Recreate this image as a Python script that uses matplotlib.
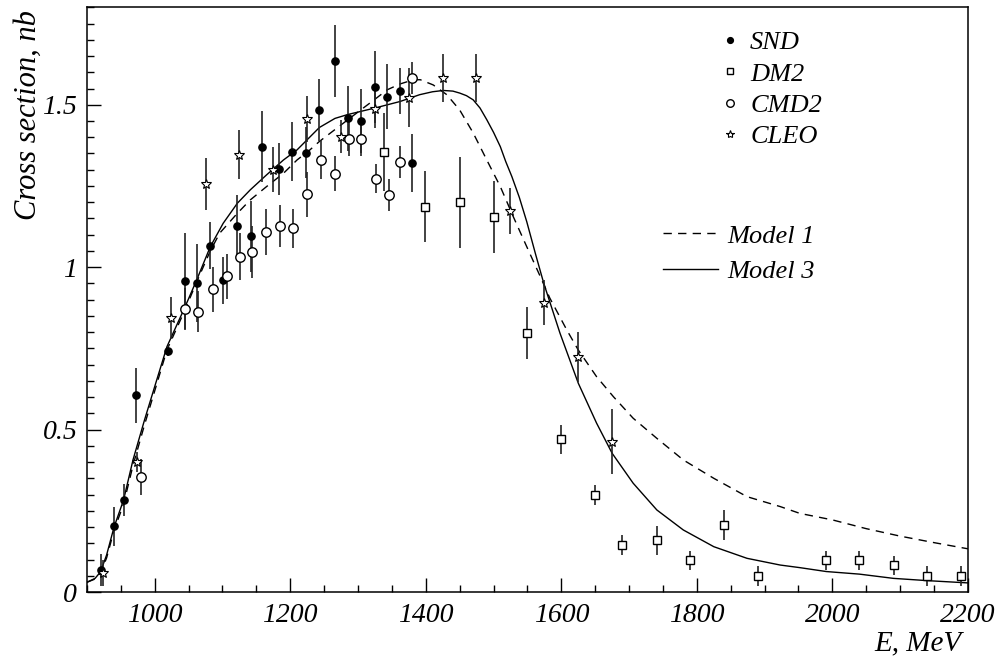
import matplotlib
matplotlib.use('Agg')
import matplotlib.pyplot as plt
from matplotlib.ticker import MultipleLocator, FuncFormatter

plt.rcParams['font.family'] = ['Liberation Serif', 'DejaVu Serif']
plt.rcParams['font.style'] = 'italic'

# SND
snd_e = [920, 940, 954, 973, 1019, 1045, 1062, 1082, 1101, 1122, 1142, 1159,
         1183, 1202, 1223, 1243, 1266, 1285, 1304, 1325, 1343, 1362, 1380]
snd_s = [0.068, 0.202, 0.283, 0.605, 0.741, 0.958, 0.95, 1.066, 0.959, 1.127,
         1.095, 1.371, 1.303, 1.356, 1.353, 1.484, 1.634, 1.459, 1.45, 1.555,
         1.524, 1.542, 1.321]
snd_err = [0.05, 0.06, 0.05, 0.085, 0.015, 0.147, 0.12, 0.072, 0.073, 0.095,
           0.11, 0.11, 0.08, 0.09, 0.08, 0.095, 0.11, 0.1, 0.1, 0.11, 0.1,
           0.07, 0.09]

# DM2
dm2_e = [1339, 1399, 1450, 1500, 1550, 1600, 1650, 1690, 1741, 1790, 1840,
         1890, 1991, 2040, 2091, 2140, 2190]
dm2_s = [1.356, 1.186, 1.2, 1.155, 0.797, 0.47, 0.299, 0.144, 0.159, 0.097,
         0.206, 0.049, 0.097, 0.097, 0.082, 0.049, 0.049]
dm2_err = [0.12, 0.11, 0.14, 0.11, 0.08, 0.045, 0.03, 0.03, 0.045, 0.03,
           0.047, 0.03, 0.03, 0.03, 0.03, 0.03, 0.03]

# CMD2
cmd2_e = [980, 1045, 1064, 1086, 1107, 1126, 1143, 1164, 1185, 1204, 1225,
          1245, 1266, 1286, 1304, 1327, 1346, 1362, 1380]
cmd2_s = [0.354, 0.871, 0.863, 0.932, 0.972, 1.032, 1.047, 1.109, 1.126, 1.12,
          1.224, 1.331, 1.288, 1.396, 1.396, 1.272, 1.222, 1.323, 1.583]
cmd2_err = [0.055, 0.064, 0.063, 0.07, 0.07, 0.073, 0.08, 0.07, 0.065, 0.06,
            0.07, 0.06, 0.055, 0.055, 0.055, 0.045, 0.05, 0.05, 0.05]

# CLEO
cleo_e = [924, 974, 1024, 1075, 1125, 1174, 1225, 1275, 1325, 1375, 1425,
          1474, 1525, 1575, 1624, 1675]
cleo_s = [0.058, 0.4, 0.843, 1.257, 1.346, 1.3, 1.456, 1.402, 1.487, 1.522,
          1.582, 1.582, 1.173, 0.891, 0.723, 0.462]
cleo_err = [0.04, 0.03, 0.064, 0.08, 0.075, 0.07, 0.07, 0.05, 0.06, 0.09,
            0.075, 0.075, 0.07, 0.07, 0.077, 0.1]

# Model 1 (dashed)
m1_e = [900, 912, 920, 929, 940, 954, 968, 985, 1003, 1018, 1045, 1062, 1082,
        1096, 1122, 1141, 1165, 1190, 1210, 1229, 1243, 1275, 1304, 1325, 1343,
        1362, 1382, 1392, 1411, 1431, 1450, 1470, 1490, 1510, 1529, 1549, 1569,
        1583, 1608, 1625, 1652, 1677, 1706, 1741, 1780, 1825, 1874, 1923, 1952,
        2000, 2050, 2100, 2150, 2200]
m1_s = [0.03, 0.04, 0.058, 0.105, 0.19, 0.27, 0.39, 0.515, 0.64, 0.745, 0.87,
        0.955, 1.05, 1.105, 1.166, 1.207, 1.248, 1.289, 1.33, 1.361, 1.387,
        1.438, 1.484, 1.517, 1.546, 1.564, 1.577, 1.577, 1.561, 1.531, 1.484,
        1.413, 1.33, 1.248, 1.156, 1.063, 0.971, 0.905, 0.807, 0.745, 0.663,
        0.601, 0.535, 0.473, 0.4065, 0.35, 0.2935, 0.263, 0.242, 0.222, 0.195,
        0.172, 0.152, 0.133]

# Model 3 (solid)
m3_e = [900, 912, 920, 929, 940, 954, 968, 985, 1003, 1018, 1045, 1062, 1082,
        1101, 1122, 1141, 1165, 1190, 1210, 1243, 1266, 1285, 1325, 1362, 1391,
        1410, 1426, 1440, 1450, 1460, 1470, 1480, 1490, 1500, 1510, 1518, 1527,
        1538, 1549, 1562, 1574, 1598, 1625, 1652, 1675, 1706, 1741, 1780, 1825,
        1874, 1923, 1952, 1991, 2040, 2090, 2140, 2200]
m3_s = [0.03, 0.042, 0.062, 0.114, 0.2, 0.283, 0.407, 0.53, 0.653, 0.755,
        0.879, 0.961, 1.063, 1.135, 1.197, 1.238, 1.284, 1.33, 1.361, 1.43,
        1.458, 1.47, 1.49, 1.51, 1.531, 1.54, 1.544, 1.542, 1.536, 1.528, 1.515,
        1.49, 1.454, 1.415, 1.371, 1.325, 1.279, 1.215, 1.14, 1.04, 0.951,
        0.797, 0.643, 0.52, 0.427, 0.335, 0.2525, 0.191, 0.1395, 0.1037, 0.083,
        0.075, 0.063, 0.055, 0.042, 0.035, 0.028]

fig = plt.figure(figsize=(9.96, 6.58), dpi=100)
ax = fig.add_axes([0.0873, 0.1003, 0.8845, 0.8886])

ax.plot(m1_e, m1_s, color='black', lw=1.0, dashes=(6, 4.5), label='Model 1', zorder=2)
ax.plot(m3_e, m3_s, color='black', lw=1.0, label='Model 3', zorder=2)

for e, s, err in [(snd_e, snd_s, snd_err), (dm2_e, dm2_s, dm2_err),
                  (cmd2_e, cmd2_s, cmd2_err), (cleo_e, cleo_s, cleo_err)]:
    ax.errorbar(e, s, yerr=err, fmt='none', ecolor='#222222', elinewidth=1.2,
                capsize=0, zorder=3)

h_snd, = ax.plot(snd_e, snd_s, ls='none', marker='o', ms=5.2, mfc='black',
                 mec='black', label='SND', zorder=4)
h_dm2, = ax.plot(dm2_e, dm2_s, ls='none', marker='s', ms=5.8, mfc='white',
                 mec='black', mew=1.0, label='DM2', zorder=4)
h_cmd2, = ax.plot(cmd2_e, cmd2_s, ls='none', marker='o', ms=6.8, mfc='white',
                  mec='black', mew=1.0, label='CMD2', zorder=4)
h_cleo, = ax.plot(cleo_e, cleo_s, ls='none', marker='*', ms=7.5, mfc='white',
                  mec='black', mew=0.8, label='CLEO', zorder=4)

ax.set_xlim(900, 2200)
ax.set_ylim(0, 1.8)
ax.xaxis.set_major_locator(MultipleLocator(200))
ax.xaxis.set_minor_locator(MultipleLocator(50))
ax.yaxis.set_major_locator(MultipleLocator(0.5))
ax.yaxis.set_minor_locator(MultipleLocator(0.05))
ax.yaxis.set_major_formatter(FuncFormatter(lambda v, p: '%g' % v))
ax.xaxis.set_major_formatter(FuncFormatter(lambda v, p: '' if v < 950 else '%d' % v))

ax.tick_params(which='both', direction='in', top=False, right=False,
               labelsize=20, width=1.0)
ax.tick_params(which='major', length=10)
ax.tick_params(which='minor', length=5)
ax.tick_params(axis='x', pad=8)
ax.tick_params(axis='y', pad=7)
for lab in ax.get_xticklabels() + ax.get_yticklabels():
    lab.set_fontstyle('italic')
for sp in ax.spines.values():
    sp.set_linewidth(1.1)

ax.set_xlabel('E, MeV', fontsize=21, loc='right')
ax.xaxis.set_label_coords(0.993, -0.066)
ax.xaxis.label.set_va('top')
ax.set_ylabel('Cross section, nb', fontsize=22, loc='top')
ax.yaxis.set_label_coords(-0.05, 0.995)

leg1 = ax.legend(handles=[h_snd, h_dm2, h_cmd2, h_cleo], loc='upper left',
                 bbox_to_anchor=(0.718, 0.96), frameon=False, fontsize=19,
                 handlelength=0.8, handletextpad=0.36, labelspacing=0.3,
                 borderpad=0, borderaxespad=0, markerscale=0.8)
ax.add_artist(leg1)
lines = ax.get_lines()[:2]
ax.legend(handles=lines, loc='upper left', bbox_to_anchor=(0.654, 0.629),
          frameon=False, fontsize=19, handlelength=2.08, handletextpad=0.34,
          labelspacing=0.46, borderpad=0, borderaxespad=0)

fig.savefig('out.png', dpi=100)
